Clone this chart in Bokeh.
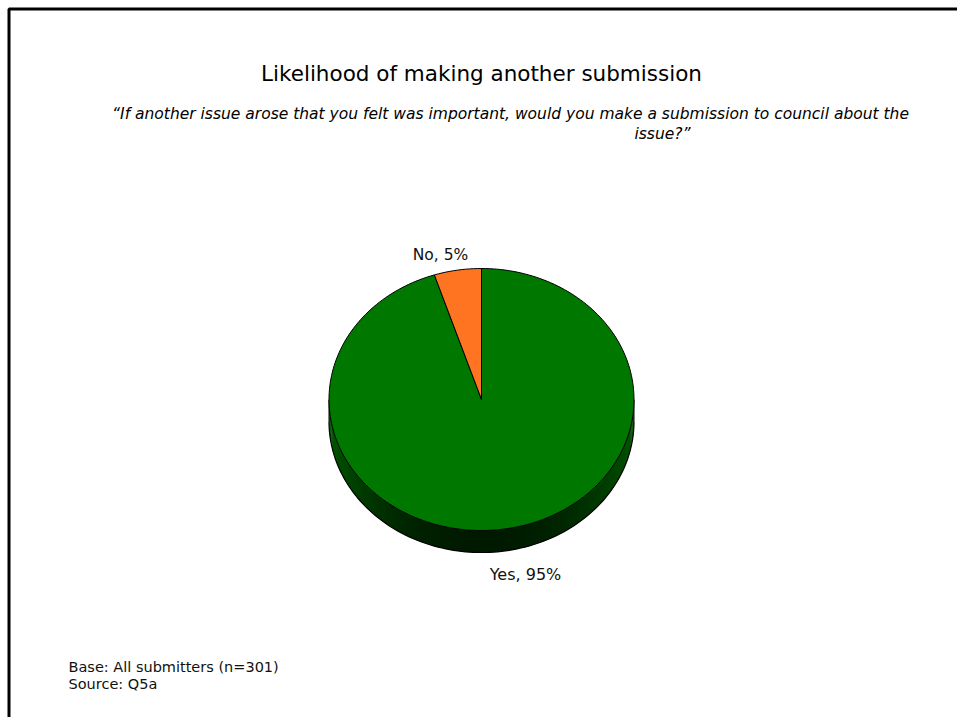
import math
from bokeh.plotting import figure
from bokeh.models import Range1d
from bokeh.core.properties import value
from bokeh.embed import file_html
from bokeh.resources import INLINE

# ---- data ----
categories = ["Yes", "No"]
percents = [95, 5]
slice_colors = ["#007800", "#ff7420"]
slice_labels = ["Yes, 95%", "No, 5%"]
title_text = "Likelihood of making another submission"
subtitle_line1 = "\u201cIf another issue arose that you felt was important, would you make a submission to council about the"
subtitle_line2 = "issue?\u201d"
footer_lines = ["Base: All submitters (n=301)", "Source: Q5a"]

W, H = 957, 717
p = figure(width=W, height=H, output_backend="svg", toolbar_location=None,
           x_range=Range1d(0, W), y_range=Range1d(H, 0), min_border=0)
p.axis.visible = False
p.grid.visible = False
p.outline_line_color = None
p.background_fill_color = "white"
p.border_fill_color = "white"

FONT = "DejaVu Sans"

# page border (left and top)
p.line([8.5, 8.5, W + 5], [H + 5, 8.5, 8.5], line_color="black", line_width=3)

# ---- pie geometry ----
cx, cy = 481.0, 399.0
rx, ry = 152.5, 131.0
depth = 22.0

def pt(theta, dy=0.0):
    # theta clockwise from 12 o'clock
    return cx + rx * math.sin(theta), cy - ry * math.cos(theta) + dy

# side (front half) with shading
N = 120
edge = (0x00, 0x58, 0x00)
dark = (0x00, 0x1a, 0x00)
xs_list, ys_list, cols = [], [], []
ov = math.pi / N * 0.3
for i in range(N):
    a0 = math.pi / 2 + math.pi * i / N
    a1 = math.pi / 2 + math.pi * (i + 1) / N
    b0 = max(math.pi / 2, a0 - ov)
    b1 = min(3 * math.pi / 2, a1 + ov)
    x0, y0 = pt(b0); x1, y1 = pt(b1)
    x0b, y0b = pt(b0, depth); x1b, y1b = pt(b1, depth)
    xs_list.append([x0, x1, x1b, x0b]); ys_list.append([y0, y1, y1b, y0b])
    mid = (a0 + a1) / 2
    t = max(0.0, math.sin(mid - math.pi / 2)) ** 1.6
    c = tuple(int(edge[k] + (dark[k] - edge[k]) * t) for k in range(3))
    cols.append("#%02x%02x%02x" % c)
p.patches(xs_list, ys_list, fill_color=cols, line_color=None)

# side outline
arc = [pt(math.pi / 2 + math.pi * i / 120, depth) for i in range(121)]
p.line([a[0] for a in arc], [a[1] for a in arc], line_color="black", line_width=1.2)
for a in (math.pi / 2, 3 * math.pi / 2):
    xa, ya = pt(a); xb, yb = pt(a, depth)
    p.line([xa, xb], [ya, yb], line_color="black", line_width=1)

# top face slices: Yes clockwise from top, No fills the rest
total = sum(percents)
start = 0.0
for cat, val, col in zip(categories, percents, slice_colors):
    end = start + 2 * math.pi * val / total
    n = max(4, int(240 * val / total))
    pts = [(cx, cy)] + [pt(start + (end - start) * i / n) for i in range(n + 1)]
    p.patch([q[0] for q in pts], [q[1] for q in pts], fill_color=col,
            line_color="black", line_width=1)
    start = end

# ---- texts ----
p.text([481], [73], text=[title_text], text_font=value(FONT), text_font_size="21.5px",
       text_align="center", text_baseline="middle", text_color="black")
p.text([510], [113], text=[subtitle_line1], text_font=value(FONT), text_font_size="15.5px",
       text_font_style="italic", text_align="center", text_baseline="middle", text_color="black")
p.text([662], [133], text=[subtitle_line2], text_font=value(FONT), text_font_size="15.5px",
       text_font_style="italic", text_align="center", text_baseline="middle", text_color="black")

p.text([440], [254], text=[slice_labels[1]], text_font=value(FONT), text_font_size="15.5px",
       text_align="center", text_baseline="middle", text_color="#111111")
p.text([525], [574], text=[slice_labels[0]], text_font=value(FONT), text_font_size="16px",
       text_align="center", text_baseline="middle", text_color="#111111")

p.text([68, 68], [666, 683], text=footer_lines, text_font=value(FONT), text_font_size="14.5px",
       text_align="left", text_baseline="middle", text_color="#111111")

open("out.html", "w").write(file_html(p, INLINE))
